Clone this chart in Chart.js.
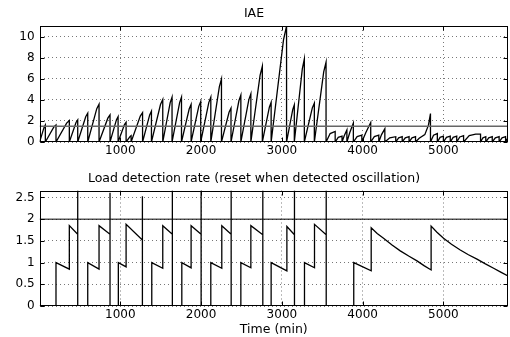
<!DOCTYPE html>
<html>
<head>
<meta charset="utf-8">
<script src="https://cdn.jsdelivr.net/npm/chart.js@4"></script>
<style>
  html, body { margin: 0; padding: 0; background: #fff; }
  #wrap { position: relative; width: 510px; height: 337px; }
  .box { position: absolute; left: 0; width: 510px; }
  #topBox { top: 0; height: 160px; }
  #bottomBox { top: 160px; height: 177px; }
</style>
</head>
<body>
<div id="wrap">
  <div class="box" id="topBox"><canvas id="iaeChart"></canvas></div>
  <div class="box" id="bottomBox"><canvas id="rateChart"></canvas></div>
</div>
<script>
// x axis (minutes)
const timeMax = 5800;
const timeTicks = [1000, 2000, 3000, 4000, 5000];

// IAE panel
const iaeMax = 11;
const iaeTicks = [0, 2, 4, 6, 8, 10];
const iaeLimit = 1.5;
const iaeTime = [
  0,
  57, 71, 71,        177, 203, 203,     335, 368, 368,     451, 472, 472,
  571, 596, 596,     708, 736, 736,     845, 872, 872,     952, 972, 972,
  1051, 1071, 1071,  1121, 1133, 1133,  1247, 1275, 1275,  1363, 1385, 1385,
  1497, 1525, 1525,  1617, 1640, 1640,  1734, 1757, 1757,  1852, 1876, 1876,
  1971, 1995, 1995,  2095, 2120, 2120,  2226, 2252, 2252,  2346, 2370, 2370,
  2468, 2492, 2492,  2591, 2616, 2616,  2730, 2758, 2758,  2845, 2867, 2867,
  3020, 3058, 3058,  3135, 3154, 3154,  3253, 3278, 3278,  3377, 3402, 3402,
  3518, 3547, 3547,
  3598, 3660, 3660,  3698, 3745, 3745,  3772, 3805, 3805,  3841, 3885, 3885,
  3932, 3990, 3990,  4040, 4100, 4100,  4145, 4200, 4200,  4234, 4275, 4275,
  4336, 4410, 4410,  4446, 4490, 4490,  4528, 4575, 4575,  4611, 4655, 4655,
  4700, 4770, 4815, 4840, 4840,
  4878, 4925, 4925,  4959, 5000, 5000,  5038, 5085, 5085,  5121, 5165, 5165,
  5203, 5250, 5250,  5320, 5400, 5460, 5460,
  5490, 5525, 5525,  5561, 5605, 5605,  5643, 5690, 5690,  5726, 5770, 5770,
  5785, 5800
];
const iaeValue = [
  0,
  1.43, 1.62, 0,     1.43, 1.62, 0,     1.79, 2.03, 0,     1.85, 2.10, 0,
  2.40, 2.73, 0,     3.16, 3.59, 0,     2.26, 2.57, 0,     2.12, 2.41, 0,
  1.65, 1.87, 0,     0.53, 0.60, 0,     2.46, 2.79, 0,     2.57, 2.92, 0,
  3.55, 4.03, 0,     3.74, 4.25, 0,     3.74, 4.25, 0,     3.13, 3.56, 0,
  3.38, 3.84, 0,     3.74, 4.25, 0,     5.25, 5.97, 0,     2.82, 3.21, 0,
  3.91, 4.44, 0,     4.02, 4.57, 0,     6.31, 7.17, 0,     3.30, 3.75, 0,
  9.68, 11.0, 0,     3.10, 3.52, 0,     6.93, 7.87, 0,     3.24, 3.68, 0,
  6.65, 7.56, 0,
  0.80, 1.00, 0,     0.44, 0.55, 0,     0.60, 1.14, 0,     0.90, 1.80, 0,
  0.52, 0.65, 0,     0.90, 1.85, 0,     0.52, 0.65, 0,     0.70, 1.25, 0,
  0.40, 0.50, 0,     0.40, 0.50, 0,     0.40, 0.50, 0,     0.40, 0.50, 0,
  0.35, 0.70, 1.60, 2.70, 0,
  0.64, 0.80, 0,     0.44, 0.55, 0,     0.44, 0.55, 0,     0.44, 0.55, 0,
  0.48, 0.60, 0,     0.60, 0.75, 0.75, 0,
  0.40, 0.50, 0,     0.40, 0.50, 0,     0.40, 0.50, 0,     0.40, 0.50, 0,
  0.25, 0.35
];

// Load detection rate panel
const rateMax = 2.66;
const rateTicks = [0, 0.5, 1, 1.5, 2, 2.5];
const rateLimit = 2;
const rateTime = [
  0, 203, 203, 368, 368, 472, 472, 472,
  596, 596, 736, 736, 872, 872, 872,
  975, 975, 1071, 1071, 1273, 1273, 1273,
  1389, 1389, 1525, 1525, 1644, 1644, 1644,
  1761, 1761, 1876, 1876, 2000, 2000, 2000,
  2120, 2120, 2256, 2256, 2372, 2372, 2372,
  2492, 2492, 2616, 2616, 2764, 2764, 2764,
  2867, 2867, 3062, 3062, 3156, 3156, 3156,
  3280, 3280, 3404, 3404, 3549, 3549, 3549,
  3890, 3890, 4106, 4106, 4180, 4259, 4360, 4466, 4570, 4673, 4760, 4848,
  4848, 4920, 5002, 5100, 5209, 5310, 5416, 5520, 5622, 5710, 5800
];
const rateValue = [
  0, 0, 1.00, 0.85, 1.85, 1.65, 2.66, 0,
  0, 1.00, 0.85, 1.85, 1.65, 2.61, 0,
  0, 1.00, 0.90, 1.88, 1.52, 2.53, 0,
  0, 1.00, 0.87, 1.85, 1.65, 2.66, 0,
  0, 1.00, 0.88, 1.85, 1.65, 2.66, 0,
  0, 1.00, 0.87, 1.85, 1.65, 2.66, 0,
  0, 1.00, 0.88, 1.85, 1.64, 2.66, 0,
  0, 1.00, 0.81, 1.83, 1.64, 2.66, 0,
  0, 1.00, 0.88, 1.88, 1.64, 2.66, 0,
  0, 1.00, 0.81, 1.80, 1.67, 1.56, 1.41, 1.27, 1.15, 1.04, 0.93, 0.83,
  1.84, 1.70, 1.56, 1.42, 1.29, 1.18, 1.08, 0.97, 0.87, 0.78, 0.69
];

Chart.defaults.font.family = "'DejaVu Sans', sans-serif";
Chart.defaults.font.size = 12;
Chart.defaults.color = '#000';

const toPoints = (xs, ys) => xs.map((x, i) => ({ x: x, y: ys[i] }));

// MATLAB style box with inward tick marks
const boxPlugin = {
  id: 'box',
  afterDraw(chart) {
    const { ctx, chartArea: a, scales } = chart;
    const l = Math.round(a.left) + 0.5, r = Math.round(a.right) - 0.5;
    const t = Math.round(a.top) + 0.5, b = Math.round(a.bottom) - 0.5;
    ctx.save();
    ctx.strokeStyle = '#000';
    ctx.lineWidth = 1;
    ctx.strokeRect(l, t, r - l, b - t);
    ctx.beginPath();
    scales.x.ticks.forEach(tk => {
      const px = Math.round(scales.x.getPixelForValue(tk.value)) + 0.5;
      ctx.moveTo(px, b); ctx.lineTo(px, b - 4);
      ctx.moveTo(px, t); ctx.lineTo(px, t + 4);
    });
    scales.y.ticks.forEach(tk => {
      const py = Math.round(scales.y.getPixelForValue(tk.value)) + 0.5;
      ctx.moveTo(l, py); ctx.lineTo(l + 4, py);
      ctx.moveTo(r, py); ctx.lineTo(r - 4, py);
    });
    ctx.stroke();
    ctx.restore();
  }
};

function xAxis(height, title) {
  return {
    type: 'linear',
    min: 0,
    max: timeMax,
    afterBuildTicks: s => { s.ticks = timeTicks.map(v => ({ value: v })); },
    afterFit: s => { s.height = height; },
    grid: { color: '#777', lineWidth: 1, drawTicks: false },
    border: { display: false, dash: [1, 3] },
    ticks: { padding: 2, maxRotation: 0, callback: v => String(v) },
    title: title ? {
      display: true, text: title, padding: 0,
      font: { size: 12.5 }
    } : { display: false }
  };
}

function yAxis(max, ticks) {
  return {
    min: 0,
    max: max,
    afterBuildTicks: s => { s.ticks = ticks.map(v => ({ value: v })); },
    afterFit: s => { s.width = 39.6; },
    grid: { color: '#777', lineWidth: 1, drawTicks: false },
    border: { display: false, dash: [1, 3] },
    ticks: { padding: 5, callback: v => String(v) }
  };
}

function baseOptions(title, titlePadding, xHeight, xTitle, yMax, yTicks) {
  return {
    responsive: true,
    maintainAspectRatio: false,
    animation: false,
    devicePixelRatio: 1,
    layout: { padding: { left: 0, right: 2, top: 0, bottom: 0 } },
    plugins: {
      legend: { display: false },
      tooltip: { enabled: false },
      title: {
        display: true,
        text: title,
        color: '#000',
        font: { size: 12.5, weight: 'normal' },
        padding: titlePadding
      }
    },
    elements: { point: { radius: 0 }, line: { tension: 0 } },
    scales: {
      x: xAxis(xHeight, xTitle),
      y: yAxis(yMax, yTicks)
    }
  };
}

new Chart(document.getElementById('iaeChart'), {
  type: 'line',
  data: {
    datasets: [
      {
        data: toPoints([0, timeMax], [iaeLimit, iaeLimit]),
        borderColor: '#666',
        borderWidth: 1.5
      },
      {
        data: toPoints(iaeTime, iaeValue),
        borderColor: '#000',
        borderWidth: 1.3
      }
    ]
  },
  options: baseOptions('IAE', { top: 6, bottom: 5 }, 18, null, iaeMax, iaeTicks),
  plugins: [boxPlugin]
});

new Chart(document.getElementById('rateChart'), {
  type: 'line',
  data: {
    datasets: [
      {
        data: toPoints([0, timeMax], [rateLimit, rateLimit]),
        borderColor: '#000',
        borderWidth: 1
      },
      {
        data: toPoints(rateTime, rateValue),
        borderColor: '#000',
        borderWidth: 1.3
      }
    ]
  },
  options: baseOptions('Load detection rate (reset when detected oscillation)',
    { top: 11.5, bottom: 4 }, 31, 'Time (min)', rateMax, rateTicks),
  plugins: [boxPlugin]
});
</script>
</body>
</html>
